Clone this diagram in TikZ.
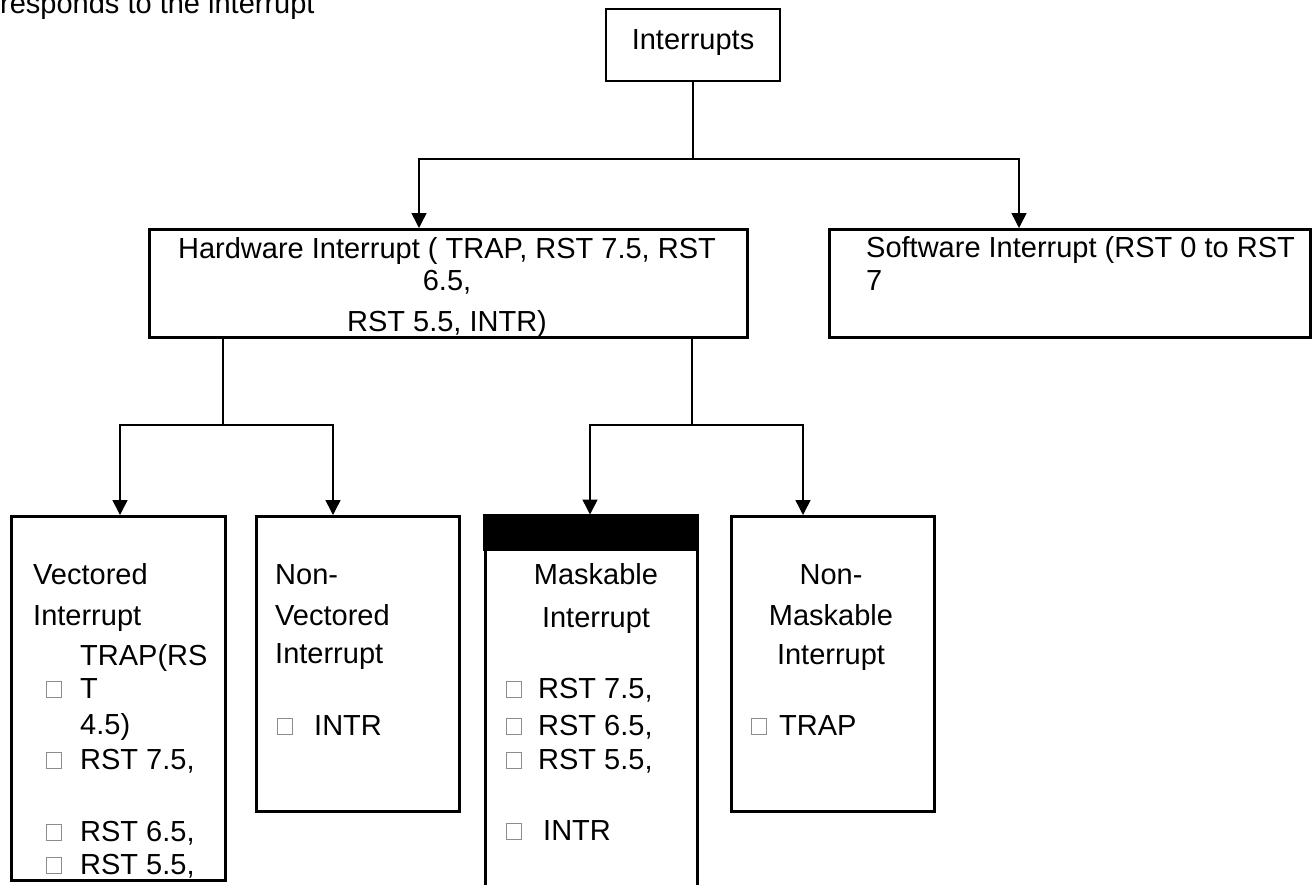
\documentclass[tikz,border=0pt]{standalone}
\usepackage{fontspec}
\setmainfont{Liberation Sans}
\usetikzlibrary{arrows.meta}

\begin{document}
\begin{tikzpicture}[x=1pt,y=-1pt,
  every node/.style={font=\fontsize{29}{34}\selectfont},
  frame/.style={draw, line width=3pt, inner sep=0pt},
  txt/.style={anchor=base west, inner sep=0pt},
  ctxt/.style={anchor=base, inner sep=0pt},
  tofu/.style={draw=black!45, line width=0.8pt, inner sep=0pt,
    minimum width=15pt, minimum height=16pt, anchor=south west},
  stem/.style={line width=2.2pt},
  link/.style={line width=1.4pt},
  arrow/.style={line width=1.5pt, -{Triangle[width=15pt,length=15pt]}}]

\clip (0,0) rectangle (1316,884);
\fill[white] (0,0) rectangle (1316,884);

% line of running text above the chart
\node[txt] (run) at (0,13) {responds to the interrupt};

% root
\node[draw, line width=1.3pt, minimum width=174pt, minimum height=72pt, inner sep=0pt]
  (top) at (693,45) {};
\node[ctxt] (toplbl) at (693,49) {Interrupts};

% second level
\node[frame, minimum width=598pt, minimum height=108pt] (hw) at (448.5,283.5) {};
\node[ctxt] (hw1) at (447,258) {Hardware Interrupt ( TRAP, RST 7.5, RST};
\node[ctxt] (hw2) at (447,290) {6.5,};
\node[ctxt] (hw3) at (447,331) {RST 5.5, INTR)};

\node[frame, minimum width=481pt, minimum height=108pt] (sw) at (1070,283.5) {};
\node[txt] (sw1) at (866,257) {Software Interrupt (RST 0 to RST};
\node[txt] (sw2) at (866,290) {7};

% third level
\node[frame, minimum width=214pt, minimum height=364pt] (vec) at (118.5,698.5) {};
\node[frame, minimum width=203pt, minimum height=295pt] (nvec) at (358,664) {};
\node[frame, minimum width=212pt, minimum height=384pt] (mask) at (591,708) {};
\fill (483,514) rectangle (699,551);
\node[frame, minimum width=203pt, minimum height=295pt] (nmask) at (833,664) {};

% vectored
\node[txt] (v1) at (33,584) {Vectored};
\node[txt] (v2) at (33,625) {Interrupt};
\node[txt] (v3) at (80,665) {TRAP(RS};
\node[txt] (v4) at (80,698) {T};
\node[txt] (v5) at (80,734) {4.5)};
\node[txt] (v6) at (80,769) {RST 7.5,};
\node[txt] (v7) at (80,841) {RST 6.5,};
\node[txt] (v8) at (80,874) {RST 5.5,};
\node[tofu] (vb1) at (46,698) {};
\node[tofu] (vb2) at (46,769) {};
\node[tofu] (vb3) at (46,841) {};
\node[tofu] (vb4) at (46,874) {};

% non-vectored
\node[txt] (n1) at (275,584) {Non-};
\node[txt] (n2) at (275,625) {Vectored};
\node[txt] (n3) at (275,663) {Interrupt};
\node[tofu] (nb1) at (277,735) {};
\node[txt] (n4) at (314,735) {INTR};

% maskable
\node[ctxt] (m1) at (596,584) {Maskable};
\node[ctxt] (m2) at (596,627) {Interrupt};
\node[tofu] (mb1) at (506,698) {};
\node[tofu] (mb2) at (506,735) {};
\node[tofu] (mb3) at (506,769) {};
\node[tofu] (mb4) at (506,840) {};
\node[txt] (m3) at (538,698) {RST 7.5,};
\node[txt] (m4) at (538,735) {RST 6.5,};
\node[txt] (m5) at (538,769) {RST 5.5,};
\node[txt] (m6) at (543,840) {INTR};

% non-maskable
\node[ctxt] (k1) at (831,584) {Non-};
\node[ctxt] (k2) at (831,625) {Maskable};
\node[ctxt] (k3) at (831,664) {Interrupt};
\node[tofu] (kb1) at (751,735) {};
\node[txt] (k4) at (779,735) {TRAP};

% connectors
\coordinate (j1) at (693,159);
\draw[link] (top.south) -- (j1);
\draw[arrow] (j1) -| ([xshift=-29.5pt]hw.north);
\draw[arrow] (j1) -| ([xshift=-51pt]sw.north);

\coordinate (j2) at (223,425);
\coordinate (j3) at (692,425);
\draw[stem] ([xshift=-225.5pt]hw.south) -- (j2);
\draw[stem] ([xshift=243.5pt]hw.south) -- (j3);
\draw[arrow] (j2) -| ([xshift=1.5pt]vec.north);
\draw[arrow] (j2) -| ([xshift=-25pt]nvec.north);
\draw[arrow] (j3) -| ([xshift=-1pt]mask.north);
\draw[arrow] (j3) -| ([xshift=-30pt]nmask.north);
\end{tikzpicture}
\end{document}
